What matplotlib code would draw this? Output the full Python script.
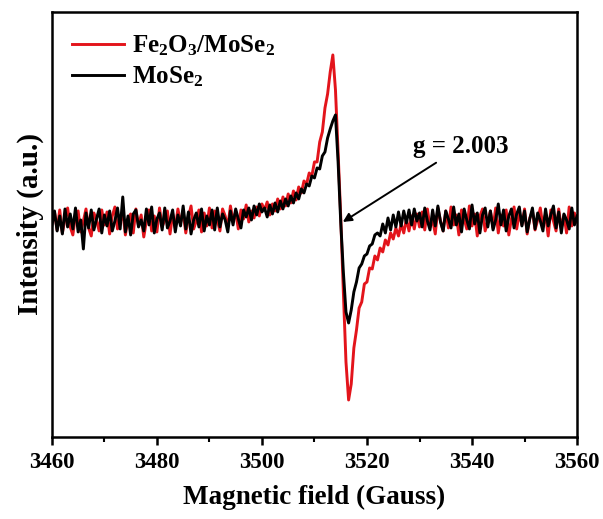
import numpy as np
import matplotlib
matplotlib.use("Agg")
import matplotlib.pyplot as plt

# field axis, 0.5 G steps from 3460 to 3560
field = np.linspace(3460, 3560, 201)

# EPR signal of Fe2O3/MoSe2 (a.u.)
fe2o3_mose2 = [
    0, 10, -8, 12, -11, 3, 14, -5, -13, 7, 11, -10, 1, 13, -6, -14, 9, 2, -9, 12,
    -3, 10, -12, 6, 15, -7, -1, 11, -13, 3, 8, -11, 13, -4, 7, -15, 1, 12, -9, 6,
    -10, 14, -5, 2, 11, -12, 8, -6, 13, -1, 10, -11, 5, 16, -7, 1, 12, -10, 9, -4,
    14, -6, 11, 2, -9, 13, 6, -5, 16, 1, 10, -7, 12, 3, 17, 0, 11, 4, 15, 6, 18,
    12, 20, 7, 18, 11, 23, 13, 25, 16, 28, 19, 31, 22, 35, 29, 41, 38, 49, 46, 60,
    60, 80, 90, 114, 128, 150, 167, 132, 70, 5, -70, -140, -178, -162, -126, -108, -86, -80, -62, -60,
    -46, -47, -34, -38, -26, -30, -18, -23, -11, -17, -6, -14, -2, -11, 3, -9, 6, -7, 8, -5,
    10, -8, 13, -5, 2, -12, 14, 1, -9, 11, -6, 15, -3, 7, -13, 12, 3, -7, 16, -4,
    8, -14, 6, 13, -9, 1, 11, -6, 14, -11, 7, -4, 12, -13, 3, 15, -7, 9, -3, 13,
    -12, 4, 11, -8, 2, 14, -5, 8, -14, 12, 1, -9, 13, -6, 7, -11, 15, -4, 9, 0,
]

# EPR signal of MoSe2 (a.u.)
mose2 = [
    -4, 11, -9, 6, -12, 13, -5, 8, -7, 14, -10, 2, -27, 9, -6, 12, -8, 3, 13, -11,
    7, -4, 11, -9, 1, 14, -7, 25, -10, 6, -13, 8, 12, -5, 2, -9, 13, -3, 15, -11,
    3, 9, -8, 14, -6, 1, 12, -10, 7, -4, 16, -7, 10, -12, 2, 9, -5, 13, -9, 6,
    -3, 12, -8, 14, -5, 8, 2, -10, 11, -3, 13, 3, -6, 12, 5, 14, 2, 16, 7, 18, 10,
    14, 5, 17, 8, 19, 10, 21, 13, 23, 16, 26, 19, 29, 23, 33, 29, 38, 36, 46, 44,
    54, 53, 66, 70, 84, 93, 101, 107, 60, 0, -50, -90, -101, -88, -70, -60, -46, -42, -34, -32,
    -24, -22, -13, -11, -14, -2, -11, 4, -8, 7, -5, 10, -4, 11, -1, 12, -3, 13, 1, 9,
    -5, 14, 1, -8, 12, -4, 16, 0, -9, 11, 3, -6, 15, -3, 8, -10, 13, 2, -7, 17,
    -2, 9, -11, 7, 14, -5, 11, -8, 2, 18, -3, 12, -9, 6, 13, -6, 8, 15, -4, 11,
    -10, 3, 14, -7, 9, 1, -9, 13, -4, 7, 16, -6, 10, -11, 8, 2, -7, 14, -3, 6,
]

plt.rcParams['font.family'] = ['Liberation Serif', 'DejaVu Serif']
plt.rcParams['font.weight'] = 'bold'
plt.rcParams['mathtext.fontset'] = 'custom'
plt.rcParams['mathtext.rm'] = 'Liberation Serif:bold'
plt.rcParams['mathtext.default'] = 'rm'

fig = plt.figure(figsize=(6.03, 5.19), dpi=100)
ax = fig.add_axes([0.086, 0.158, 0.871, 0.819])

ax.plot(field, fe2o3_mose2, color='#e3141b', lw=2.1, label='Fe$_2$O$_3$/MoSe$_2$')
ax.plot(field, mose2, color='black', lw=2.1, label='MoSe$_2$')

ax.set_xlim(3460, 3560)
ax.set_ylim(-215, 210)
ax.set_xticks(np.arange(3460, 3561, 20))
ax.set_xticks(np.arange(3470, 3560, 20), minor=True)
ax.set_yticks([])
ax.tick_params(axis='x', which='major', direction='out', length=6, width=1.8, labelsize=16.5, pad=5)
ax.tick_params(axis='x', which='minor', direction='out', length=3.5, width=1.5)
for lab in ax.get_xticklabels():
    lab.set_fontweight('bold')
for s in ax.spines.values():
    s.set_linewidth(1.8)

ax.set_xlabel('Magnetic field (Gauss)', fontsize=19.5, fontweight='bold', labelpad=8)
ax.set_ylabel('Intensity (a.u.)', fontsize=21, fontweight='bold', labelpad=6)

ax.annotate('g = 2.003', xy=(3515.4, 0), xytext=(3528.8, 75),
            fontsize=18, fontweight='bold', ha='left', va='center',
            arrowprops=dict(arrowstyle='-|>', color='black', lw=1.4,
                            mutation_scale=13, shrinkA=2, shrinkB=0))

leg = ax.legend(loc='upper left', bbox_to_anchor=(0.005, 0.99), frameon=False,
                fontsize=18, handlelength=2.1, handletextpad=0.3,
                labelspacing=0.25, borderaxespad=0.3)

fig.savefig('out.png', dpi=100)
